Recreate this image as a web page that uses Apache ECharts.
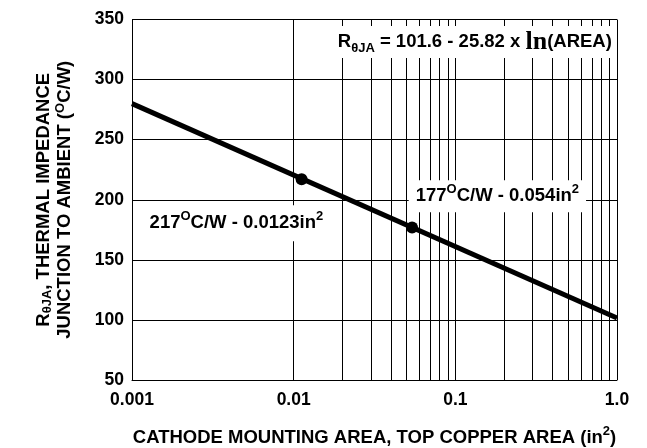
<!DOCTYPE html>
<html>
<head>
<meta charset="utf-8">
<script src="https://cdn.jsdelivr.net/npm/echarts@6/dist/echarts.min.js"></script>
<style>html,body{margin:0;padding:0;background:#fff}#c{width:647px;height:448px}</style>
</head>
<body>
<div id="c"></div>
<script>
// ---- data ----
const lineArea = [0.001, 1.0];
const lineRja = [280, 101.6];
const pointArea = [0.0112, 0.054];
const pointRja = [217, 177];
const xTickLabels = ['0.001', '0.01', '0.1', '1.0'];
const minorGridValues = [0.002,0.003,0.004,0.005,0.006,0.007,0.008,0.009,
                         0.02,0.03,0.04,0.05,0.06,0.07,0.08,0.09,
                         0.2,0.3,0.4,0.5,0.6,0.7,0.8,0.9];
const annotationText = [
  '{b|R}{sub|θJA}{b| = 101.6 - 25.82 x }{ln|ln}{b|(AREA)}',
  '{b|217}{sup|O}{b|C/W - 0.0123in}{sup|2}',
  '{b|177}{sup|O}{b|C/W - 0.054in}{sup|2}'
];
const annotationAnchor = [[0.132, 331.2], [0.0043, 180.5], [0.182, 203]];

const FONT = '"Liberation Sans", Arial, Helvetica, sans-serif';
function makeRich(size) {
  return {
    b: {fontFamily: FONT, fontWeight: 'bold', fontSize: size, color: '#000', lineHeight: 26, verticalAlign: 'middle'},
    sub: {fontFamily: FONT, fontWeight: 'bold', fontSize: Math.round(size * 0.7), color: '#000', lineHeight: 14, verticalAlign: 'bottom'},
    sup: {fontFamily: FONT, fontWeight: 'bold', fontSize: Math.round(size * 0.7), color: '#000', lineHeight: 16, verticalAlign: 'top'},
    ln: {fontFamily: '"Liberation Serif", "Times New Roman", serif', fontWeight: 'bold', fontSize: Math.round(size * 1.4), color: '#000', lineHeight: 26, verticalAlign: 'middle'}
  };
}
const rich = makeRich(18.5);

const chart = echarts.init(document.getElementById('c'), null, {renderer: 'canvas'});
chart.setOption({
  animation: false,
  backgroundColor: '#fff',
  grid: {left: 132, right: 30, top: 19.5, bottom: 68, containLabel: false, outerBoundsMode: 'none'},
  xAxis: {
    type: 'log', logBase: 10, min: 0.001, max: 1,
    axisLine: {show: true, onZero: false, lineStyle: {color: '#000', width: 1}},
    axisTick: {show: false},
    splitLine: {show: true, lineStyle: {color: '#000', width: 1}},
    axisLabel: {
      fontFamily: FONT, fontWeight: 'bold', fontSize: 17.5, color: '#000', margin: 11,
      formatter: v => xTickLabels[Math.round(Math.log10(v)) + 3]
    },
    name: '{b|CATHODE MOUNTING AREA, TOP COPPER AREA (in}{sup|2}{b|)}',
    nameLocation: 'middle', nameGap: 45,
    nameTextStyle: {rich: rich}
  },
  yAxis: {
    type: 'value', min: 50, max: 350, interval: 50,
    axisLine: {show: true, lineStyle: {color: '#000', width: 1}},
    axisTick: {show: false},
    splitLine: {show: true, lineStyle: {color: '#000', width: 1}},
    axisLabel: {fontFamily: FONT, fontWeight: 'bold', fontSize: 17.5, color: '#000', margin: 8},
    name: '{b|R}{sub|θJA}{b|, THERMAL IMPEDANCE}\n{b|JUNCTION TO AMBIENT (}{sup|O}{b|C/W)}',
    nameLocation: 'middle', nameGap: 57,
    nameTextStyle: {rich: {
      b: Object.assign({}, rich.b, {lineHeight: 21}),
      sub: Object.assign({}, rich.sub),
      sup: Object.assign({}, rich.sup)
    }}
  },
  series: [
    {
      type: 'line', data: [], silent: true,
      markLine: {
        silent: true, symbol: 'none', label: {show: false},
        lineStyle: {color: '#000', width: 1, type: 'solid'},
        data: minorGridValues.map(v => ({xAxis: v}))
      }
    },
    {
      type: 'line', z: 5, silent: true, symbol: 'none',
      lineStyle: {color: '#000', width: 5, cap: 'butt'},
      data: lineArea.map((a, i) => [a, lineRja[i]])
    },
    {
      type: 'scatter', z: 6, silent: true, symbolSize: 12,
      itemStyle: {color: '#000', opacity: 1},
      data: pointArea.map((a, i) => [a, pointRja[i]])
    },
    {
      type: 'scatter', z: 10, silent: true, symbolSize: 0,
      itemStyle: {opacity: 1, color: '#000'},
      data: annotationAnchor.map((p, i) => ({
        value: p,
        label: {
          show: true, position: 'inside', formatter: annotationText[i], rich: rich, color: '#000',
          backgroundColor: '#fff', padding: i === 0 ? [3, 2, 3, 2] : (i === 1 ? [5, 8, 5, 12] : [3, 7, 3, 7])
        }
      }))
    }
  ]
});
</script>
</body>
</html>
